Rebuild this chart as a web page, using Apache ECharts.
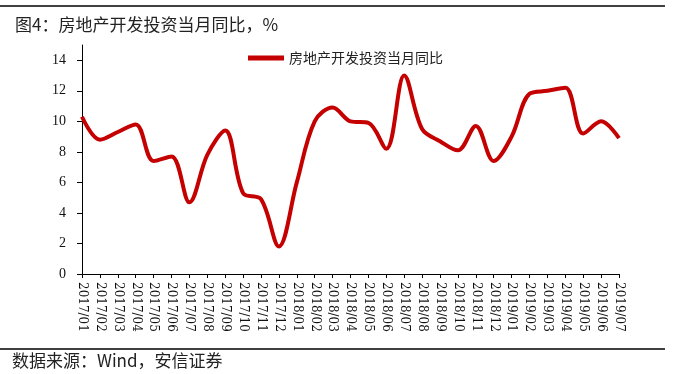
<!DOCTYPE html>
<html>
<head>
<meta charset="utf-8">
<script src="https://cdn.jsdelivr.net/npm/echarts@6/dist/echarts.min.js"></script>
<style>
html,body{margin:0;padding:0;background:#fff;}
#c{width:673px;height:374px;}
</style>
</head>
<body>
<div id="c"></div>
<script>
const categories = ['2017/01','2017/02','2017/03','2017/04','2017/05','2017/06','2017/07','2017/08','2017/09','2017/10','2017/11','2017/12',
'2018/01','2018/02','2018/03','2018/04','2018/05','2018/06','2018/07','2018/08','2018/09','2018/10','2018/11','2018/12',
'2019/01','2019/02','2019/03','2019/04','2019/05','2019/06','2019/07'];
const investYoY = [10.3,8.8,9.3,9.8,7.4,7.7,4.7,7.8,9.4,5.3,4.9,1.8,
6.0,10.0,10.9,10.0,9.9,8.2,13.0,9.5,8.7,8.1,9.7,7.4,
9.0,11.8,12.0,12.2,9.2,10.0,8.9];
const yTicks = [0,2,4,6,8,10,12,14];
const seriesName = '房地产开发投资当月同比';
const titleText = '图4：房地产开发投资当月同比，%';
const sourceText = '数据来源：Wind，安信证券';

const chart = echarts.init(document.getElementById('c'), null, {renderer:'canvas'});
chart.setOption({
  backgroundColor:'#fff',
  animation:false,
  title:{
    text:titleText, left:10, top:11,
    textStyle:{fontFamily:'Noto Sans CJK SC', fontSize:17, fontWeight:'normal', color:'#222'}
  },
  legend:{
    data:[seriesName], top:46, left:243,
    itemWidth:36, itemHeight:5, itemGap:5,
    icon:'rect',
    textStyle:{fontFamily:'Noto Sans CJK SC', fontSize:14, color:'#222'}
  },
  grid:{left:82, right:54, top:45, bottom:100, containLabel:false},
  xAxis:{
    type:'category', data:categories, boundaryGap:false,
    axisLine:{lineStyle:{color:'#000', width:1}},
    axisTick:{show:true, length:4, alignWithLabel:true, lineStyle:{color:'#000'}},
    axisLabel:{rotate:-90, interval:0, margin:8, fontFamily:'DejaVu Serif', fontSize:12, color:'#111'}
  },
  yAxis:{
    type:'value', min:0, max:15, interval:2,
    splitLine:{show:false},
    axisLine:{show:true, lineStyle:{color:'#000', width:1}},
    axisTick:{show:true, length:5, customValues:yTicks, lineStyle:{color:'#000'}},
    axisLabel:{customValues:yTicks, margin:16, fontFamily:'Liberation Serif', fontSize:14, color:'#111'}
  },
  series:[{
    name:seriesName, type:'line', data:investYoY, smooth:0.35,
    symbol:'none', lineStyle:{color:'#c40000', width:4},
    itemStyle:{color:'#c40000'}
  }],
  graphic:[
    {type:'line', shape:{x1:0,y1:6,x2:665,y2:6}, style:{stroke:'#000', lineWidth:1.5}},
    {type:'line', shape:{x1:0,y1:349,x2:665,y2:349}, style:{stroke:'#000', lineWidth:1.5}},
    {type:'text', left:12, top:352, style:{text:sourceText, fontFamily:'Noto Sans CJK SC', fontSize:17, fill:'#222'}}
  ]
});
</script>
</body>
</html>
